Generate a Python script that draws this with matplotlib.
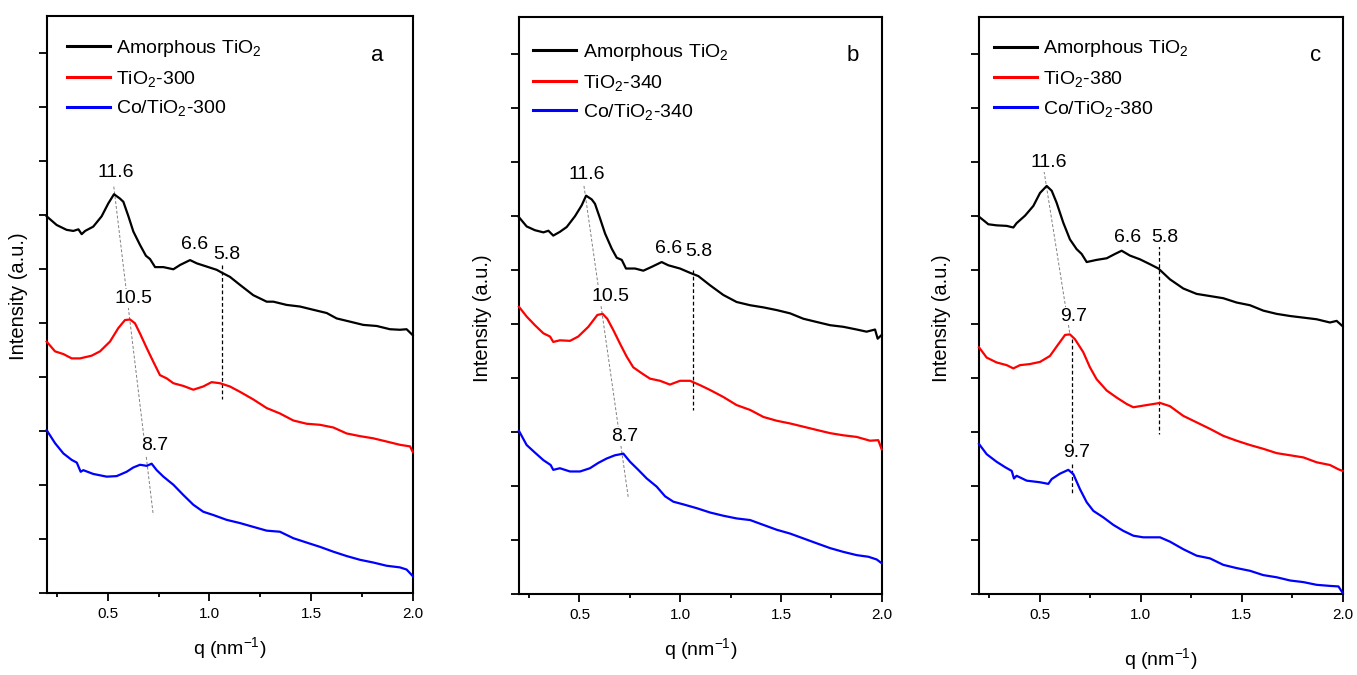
import numpy as np
import matplotlib.pyplot as plt

plt.rcParams["font.family"] = ["Liberation Sans", "DejaVu Sans"]
plt.rcParams["mathtext.fontset"] = "custom"
plt.rcParams["mathtext.rm"] = "Liberation Sans"
plt.rcParams["mathtext.it"] = "Liberation Sans:italic"
plt.rcParams["mathtext.bf"] = "Liberation Sans:bold"

# %% data (q in nm^-1, intensity in offset a.u.)
temps = ["300", "340", "380"]
letters = ["a", "b", "c"]

q_a_amorph = [0.200, 0.249, 0.298, 0.331, 0.356, 0.372, 0.389, 0.429, 0.470, 0.503, 0.531, 0.560, 0.577, 0.602, 0.626,
              0.659, 0.688, 0.708, 0.733, 0.774, 0.823, 0.856, 0.905, 0.938, 0.987, 1.036, 1.060, 1.101, 1.151, 1.216,
              1.282, 1.315, 1.380, 1.446, 1.511, 1.577, 1.626, 1.692, 1.757, 1.823, 1.888, 1.937, 1.970, 2.000]
i_a_amorph = [6.98, 6.82, 6.73, 6.71, 6.74, 6.65, 6.71, 6.79, 6.98, 7.22, 7.39, 7.31, 7.25, 6.98, 6.70,
              6.45, 6.25, 6.19, 6.04, 6.04, 6.00, 6.08, 6.17, 6.11, 6.05, 5.99, 5.94, 5.86, 5.71, 5.52,
              5.40, 5.40, 5.34, 5.31, 5.25, 5.19, 5.09, 5.03, 4.97, 4.95, 4.89, 4.88, 4.89, 4.78]
q_a_tio2 = [0.200, 0.241, 0.282, 0.323, 0.364, 0.421, 0.462, 0.511, 0.552, 0.585, 0.610, 0.634, 0.659, 0.692, 0.724,
            0.757, 0.790, 0.823, 0.872, 0.921, 0.970, 1.011, 1.052, 1.101, 1.151, 1.216, 1.282, 1.347, 1.413, 1.478,
            1.544, 1.610, 1.675, 1.741, 1.806, 1.872, 1.937, 1.987, 2.000]
i_a_tio2 = [4.66, 4.48, 4.43, 4.35, 4.35, 4.40, 4.48, 4.66, 4.91, 5.06, 5.07, 5.00, 4.81, 4.54, 4.29,
            4.04, 3.98, 3.89, 3.84, 3.77, 3.83, 3.91, 3.89, 3.83, 3.73, 3.59, 3.43, 3.33, 3.20, 3.14,
            3.12, 3.07, 2.96, 2.91, 2.87, 2.81, 2.75, 2.72, 2.62]
q_a_co = [0.200, 0.241, 0.282, 0.323, 0.348, 0.367, 0.380, 0.429, 0.495, 0.544, 0.593, 0.626, 0.659, 0.692, 0.716,
          0.741, 0.774, 0.823, 0.872, 0.921, 0.970, 1.019, 1.085, 1.151, 1.216, 1.282, 1.347, 1.413, 1.478, 1.544,
          1.610, 1.675, 1.741, 1.806, 1.872, 1.937, 1.970, 2.000]
i_a_co = [3.02, 2.78, 2.59, 2.47, 2.42, 2.25, 2.28, 2.21, 2.16, 2.17, 2.25, 2.33, 2.38, 2.36, 2.40,
          2.28, 2.16, 2.01, 1.82, 1.64, 1.51, 1.45, 1.36, 1.30, 1.23, 1.16, 1.14, 1.02, 0.94, 0.86,
          0.77, 0.69, 0.62, 0.57, 0.51, 0.48, 0.44, 0.32]

q_b_amorph = [0.200, 0.238, 0.279, 0.321, 0.346, 0.370, 0.403, 0.437, 0.478, 0.511, 0.533, 0.561, 0.577, 0.602, 0.627,
              0.660, 0.685, 0.710, 0.731, 0.776, 0.817, 0.858, 0.908, 0.941, 0.999, 1.049, 1.090, 1.148, 1.214, 1.280,
              1.347, 1.413, 1.479, 1.545, 1.611, 1.677, 1.744, 1.810, 1.876, 1.925, 1.967, 1.980, 2.000]
i_b_amorph = [6.98, 6.81, 6.74, 6.70, 6.73, 6.64, 6.71, 6.80, 7.00, 7.20, 7.38, 7.31, 7.23, 6.96, 6.68,
              6.40, 6.23, 6.19, 6.03, 6.03, 5.99, 6.06, 6.15, 6.09, 6.03, 5.95, 5.89, 5.72, 5.54, 5.41,
              5.35, 5.31, 5.26, 5.20, 5.10, 5.04, 4.98, 4.95, 4.90, 4.86, 4.90, 4.73, 4.80]
q_b_tio2 = [0.200, 0.238, 0.279, 0.321, 0.354, 0.370, 0.403, 0.453, 0.494, 0.544, 0.589, 0.615, 0.638, 0.668, 0.701,
            0.734, 0.767, 0.809, 0.850, 0.900, 0.949, 0.999, 1.049, 1.098, 1.148, 1.214, 1.280, 1.347, 1.413, 1.479,
            1.545, 1.611, 1.677, 1.744, 1.810, 1.876, 1.942, 1.983, 2.000]
i_b_tio2 = [5.32, 5.14, 4.98, 4.83, 4.77, 4.67, 4.70, 4.69, 4.77, 4.95, 5.17, 5.19, 5.10, 4.89, 4.64,
            4.40, 4.20, 4.09, 3.99, 3.95, 3.88, 3.95, 3.95, 3.87, 3.78, 3.65, 3.50, 3.41, 3.28, 3.21,
            3.16, 3.10, 3.04, 2.98, 2.94, 2.91, 2.84, 2.85, 2.68]
q_b_co = [0.200, 0.238, 0.279, 0.321, 0.357, 0.370, 0.403, 0.453, 0.503, 0.552, 0.594, 0.635, 0.676, 0.718, 0.751,
          0.792, 0.834, 0.883, 0.925, 0.966, 1.016, 1.082, 1.148, 1.214, 1.280, 1.347, 1.413, 1.479, 1.545, 1.611,
          1.677, 1.744, 1.810, 1.876, 1.934, 1.975, 2.000]
i_b_co = [3.02, 2.76, 2.62, 2.48, 2.39, 2.30, 2.33, 2.27, 2.27, 2.33, 2.43, 2.51, 2.57, 2.60, 2.45,
          2.30, 2.14, 1.99, 1.81, 1.71, 1.66, 1.59, 1.51, 1.45, 1.40, 1.37, 1.28, 1.19, 1.12, 1.03,
          0.94, 0.85, 0.78, 0.72, 0.69, 0.64, 0.57]

q_c_amorph = [0.200, 0.230, 0.246, 0.287, 0.337, 0.370, 0.386, 0.428, 0.469, 0.502, 0.535, 0.560, 0.584, 0.617, 0.650,
              0.683, 0.708, 0.733, 0.782, 0.832, 0.873, 0.906, 0.947, 0.997, 1.046, 1.088, 1.145, 1.211, 1.277, 1.343,
              1.409, 1.475, 1.541, 1.607, 1.673, 1.740, 1.806, 1.871, 1.937, 1.970, 2.000]
i_c_amorph = [6.99, 6.90, 6.85, 6.83, 6.82, 6.79, 6.87, 7.01, 7.19, 7.43, 7.56, 7.47, 7.25, 6.88, 6.57,
              6.39, 6.30, 6.15, 6.19, 6.22, 6.30, 6.36, 6.27, 6.20, 6.11, 6.03, 5.83, 5.66, 5.56, 5.52,
              5.48, 5.40, 5.35, 5.25, 5.19, 5.15, 5.12, 5.09, 5.03, 5.06, 4.96]
q_c_tio2 = [0.200, 0.238, 0.287, 0.337, 0.370, 0.403, 0.452, 0.502, 0.551, 0.593, 0.626, 0.650, 0.675, 0.716, 0.749,
            0.782, 0.832, 0.881, 0.931, 0.964, 1.013, 1.063, 1.096, 1.145, 1.211, 1.277, 1.343, 1.409, 1.475, 1.541,
            1.607, 1.673, 1.740, 1.806, 1.871, 1.937, 1.979, 2.000]
i_c_tio2 = [4.57, 4.38, 4.29, 4.24, 4.18, 4.24, 4.26, 4.30, 4.41, 4.63, 4.80, 4.81, 4.72, 4.48, 4.20,
            3.98, 3.77, 3.64, 3.52, 3.46, 3.49, 3.52, 3.54, 3.48, 3.30, 3.18, 3.06, 2.93, 2.84, 2.76,
            2.69, 2.61, 2.57, 2.53, 2.44, 2.39, 2.31, 2.28]
q_c_co = [0.200, 0.238, 0.287, 0.329, 0.362, 0.373, 0.386, 0.436, 0.502, 0.543, 0.560, 0.601, 0.642, 0.667, 0.700,
          0.733, 0.766, 0.815, 0.865, 0.914, 0.964, 1.013, 1.096, 1.145, 1.211, 1.277, 1.343, 1.409, 1.475, 1.541,
          1.607, 1.673, 1.740, 1.806, 1.871, 1.937, 1.979, 2.000]
i_c_co = [2.78, 2.59, 2.45, 2.35, 2.28, 2.14, 2.19, 2.10, 2.07, 2.04, 2.13, 2.23, 2.30, 2.22, 1.94,
          1.70, 1.54, 1.42, 1.28, 1.17, 1.08, 1.05, 1.05, 0.97, 0.83, 0.71, 0.66, 0.54, 0.48, 0.43,
          0.35, 0.31, 0.25, 0.22, 0.17, 0.15, 0.14, 0.02]

# d-spacing labels (nm) and where they sit
peak_labels = [
    [("11.6", 0.541, 7.80), ("10.5", 0.626, 5.46), ("8.7", 0.733, 2.73), ("6.6", 0.929, 6.45), ("5.8", 1.085, 6.27)],
    [("11.6", 0.535, 7.78), ("10.5", 0.652, 5.51), ("8.7", 0.726, 2.91), ("6.6", 0.941, 6.40), ("5.8", 1.090, 6.35)],
    [("11.6", 0.543, 7.99), ("9.7", 0.670, 5.15), ("9.7", 0.683, 2.62), ("6.6", 0.936, 6.60), ("5.8", 1.121, 6.60)],
]
# grey shift guide (q0, y0, q1, y1) and black vertical markers (q, ytop, ybottom)
guides = [(0.530, 7.53, 0.724, 1.45), (0.519, 7.65, 0.743, 1.77), (0.522, 7.83, 0.650, 4.81)]
markers = [[(1.060, 6.08, 3.59)], [(1.065, 6.00, 3.41)], [(0.662, 4.72, 1.83), (1.093, 6.46, 2.96)]]

curves = [
    [(q_a_amorph, i_a_amorph), (q_a_tio2, i_a_tio2), (q_a_co, i_a_co)],
    [(q_b_amorph, i_b_amorph), (q_b_tio2, i_b_tio2), (q_b_co, i_b_co)],
    [(q_c_amorph, i_c_amorph), (q_c_tio2, i_c_tio2), (q_c_co, i_c_co)],
]
colors = ["black", "#ff0000", "#0000ff"]

# %% layout (figure fractions, from the pixel positions of the spines)
W, H = 1357, 675
boxes = [(46.7, 412.7, 16, 593.3), (519, 881.7, 17, 594), (979, 1342.7, 17, 594)]
ylabel_pos = [(-0.078, 0.514), (-0.102, 0.478), (-0.102, 0.478)]
xlabel_y = [-0.095, -0.095, -0.113]
legend_anchor = [(0.055, 0.962), (0.039, 0.957), (0.041, 0.963)]
letter_pos = [(0.902, 0.932), (0.920, 0.934), (0.926, 0.934)]

fig = plt.figure(figsize=(W / 100, H / 100), dpi=100)

for k in range(3):
    x0, x1, y0, y1 = boxes[k]
    ax = fig.add_axes([x0 / W, (H - y1) / H, (x1 - x0) / W, (y1 - y0) / H])

    names = ["Amorphous TiO$_2$", "TiO$_2$-" + temps[k], "Co/TiO$_2$-" + temps[k]]
    for (q, inten), c, name in zip(curves[k], colors, names):
        ax.plot(q, inten, color=c, lw=1.6, label=name, zorder=3, clip_on=False)

    g = guides[k]
    ax.plot([g[0], g[2]], [g[1], g[3]], color="gray", lw=0.7, ls=(0, (3, 2)), zorder=2)
    for qm, yt, yb in markers[k]:
        ax.plot([qm, qm], [yt, yb], color="black", lw=0.9, ls=(0, (3, 2)), zorder=2)

    for txt, qx, yy in peak_labels[k]:
        ax.text(qx, yy, txt, fontsize=14, ha="center", va="center", zorder=4,
                bbox=dict(boxstyle="square,pad=0.05", fc="white", ec="none"))

    ax.set_xlim(0.2, 2.0)
    ax.set_ylim(0, 10.69)
    ax.set_xticks([0.5, 1.0, 1.5, 2.0])
    ax.set_xticklabels(["0.5", "1.0", "1.5", "2.0"])
    ax.set_xticks([0.25, 0.75, 1.25, 1.75], minor=True)
    ax.set_yticks(np.arange(0, 11))
    ax.set_yticklabels([])
    ax.tick_params(axis="x", which="major", direction="out", length=5.8, width=1.3, labelsize=11, pad=4)
    ax.tick_params(axis="x", which="minor", direction="out", length=2.9, width=1.3)
    ax.tick_params(axis="y", which="major", direction="out", length=5.8, width=1.3)
    for sp in ax.spines.values():
        sp.set_linewidth(1.5)

    ax.set_xlabel("q (nm$^{-1}$)", fontsize=14)
    ax.xaxis.set_label_coords(0.5, xlabel_y[k])
    ax.xaxis.label.set_va("center")
    ax.set_ylabel("Intensity (a.u.)", fontsize=14.5)
    ax.yaxis.set_label_coords(*ylabel_pos[k])
    ax.yaxis.label.set_va("center")

    leg = ax.legend(loc="upper left", bbox_to_anchor=legend_anchor[k], frameon=False, fontsize=14,
                    handlelength=2.2, handletextpad=0.35, labelspacing=0.5, borderpad=0, borderaxespad=0)
    for h in leg.get_lines():
        h.set_linewidth(2.2)
    ax.text(*letter_pos[k], letters[k], transform=ax.transAxes, fontsize=16, ha="center", va="center")

fig.savefig("out.png", dpi=100)
